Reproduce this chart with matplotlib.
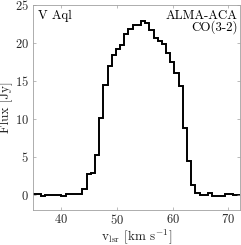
import matplotlib
matplotlib.use("Agg")
import matplotlib.pyplot as plt
import numpy as np

# channel left edges (km/s), width 0.75
v_left = [34.85, 35.60, 36.35, 37.10, 37.85, 38.60, 39.35, 40.10, 40.85, 41.60,
          42.35, 43.10, 43.85, 44.60, 45.35, 46.10, 46.85, 47.60, 48.35, 49.10,
          49.85, 50.60, 51.35, 52.10, 52.85, 53.60, 54.35, 55.10, 55.85, 56.60,
          57.35, 58.10, 58.85, 59.60, 60.35, 61.10, 61.85, 62.60, 63.35, 64.10,
          64.85, 65.60, 66.35, 67.10, 67.85, 68.60, 69.35, 70.10, 70.85, 71.60,
          72.35]
flux = [0.1, 0.1, -0.15, 0.0, 0.0, 0.0, 0.0, -0.2, 0.05, 0.05,
        0.05, 0.05, 0.7, 2.7, 2.9, 5.25, 10.1, 14.5, 17.0, 18.4,
        19.2, 19.7, 21.2, 21.8, 22.3, 22.3, 22.9, 22.6, 21.7, 20.6,
        20.3, 19.9, 18.7, 17.5, 16.1, 14.3, 8.8, 4.4, 1.3, 0.2,
        0.0, 0.0, 0.2, -0.2, -0.2, -0.1, 0.1, 0.1, 0.0, 0.0]
xticks = [40, 50, 60, 70]
yticks = [0, 5, 10, 15, 20, 25]

plt.rcParams['font.family'] = ['cmr10', 'DejaVu Serif']
plt.rcParams['mathtext.fontset'] = 'cm'
plt.rcParams['axes.formatter.use_mathtext'] = True

fig = plt.figure(figsize=(2.41, 2.45), dpi=100)
ax = fig.add_axes([33/241, 1-210/245, (239.5-33)/241, (210-5)/245])

ax.stairs(flux, v_left, color='black', lw=1.4, baseline=None)
ax.set_xlim(35, 72)
ax.set_ylim(-2, 25)
ax.set_xticks(xticks)
ax.set_yticks(yticks)
gray = '#262626'
for s in ax.spines.values():
    s.set_color('#a0a0a0')
    s.set_linewidth(0.6)
ax.tick_params(direction='in', top=True, right=True, length=2.5, width=0.5,
               color='#a0a0a0', labelsize=9, labelcolor=gray, pad=3)
ax.tick_params(axis='x', pad=2.5)
ax.set_xlabel(r'v$_{\rm lsr}$ [km s$^{-1}$]', fontsize=9.5, color=gray, labelpad=0)
ax.set_ylabel('Flux [Jy]', fontsize=9.5, color=gray, labelpad=1)
ax.text(0.025, 0.975, 'V Aql', transform=ax.transAxes, ha='left', va='top',
        fontsize=9.3, color='black')
ax.text(0.99, 0.975, 'ALMA-ACA\nCO(3-2)', transform=ax.transAxes, ha='right', va='top',
        fontsize=9.3, color='black', linespacing=0.85, multialignment='right')

fig.savefig('out.png', dpi=100)
